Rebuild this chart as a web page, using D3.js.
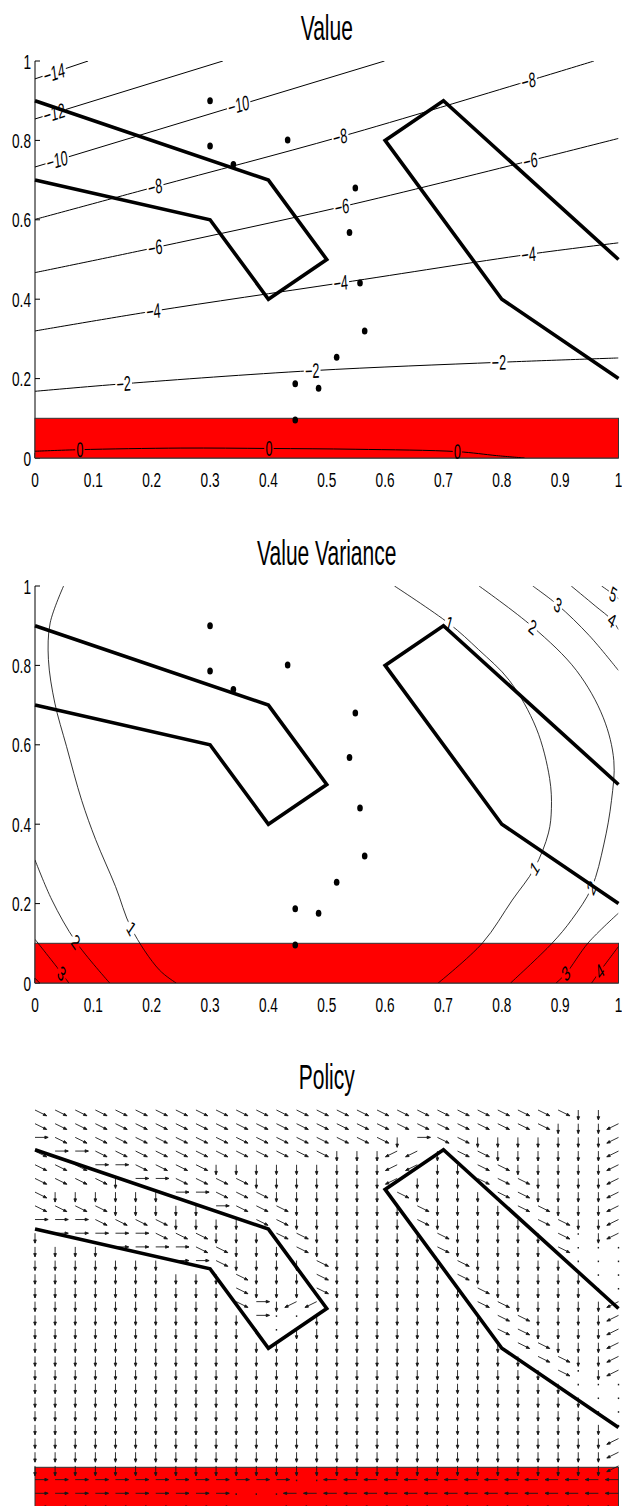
<!DOCTYPE html>
<html><head><meta charset="utf-8">
<script src="https://cdn.jsdelivr.net/npm/d3@7"></script>
<style>html,body{margin:0;padding:0;background:#fff;}svg{display:block;}</style>
</head><body>
<svg id="c" width="622" height="1506"></svg>
<script>
// ---------------- data ----------------
const panelTitles = ["Value", "Value Variance", "Policy"];
const xTickVals = [0, 0.1, 0.2, 0.3, 0.4, 0.5, 0.6, 0.7, 0.8, 0.9, 1];
const xTickLabels = ["0", "0.1", "0.2", "0.3", "0.4", "0.5", "0.6", "0.7", "0.8", "0.9", "1"];
const yTickVals = [0, 0.2, 0.4, 0.6, 0.8, 1];
const yTickLabels = ["0", "0.2", "0.4", "0.6", "0.8", "1"];

const wallLeft = [[0, 0.9], [0.4, 0.7], [0.5, 0.5], [0.4, 0.4], [0.3, 0.6], [0, 0.7]];
const wallRight = [[1, 0.5], [0.7, 0.9], [0.6, 0.8], [0.8, 0.4], [1, 0.2]];
const goalX = [0, 1];
const goalY = [0, 0.1];

const sampleX = [0.300, 0.300, 0.340, 0.433, 0.549, 0.539, 0.557, 0.565, 0.517, 0.446, 0.486, 0.446];
const sampleY = [0.900, 0.786, 0.739, 0.801, 0.680, 0.568, 0.441, 0.320, 0.254, 0.187, 0.176, 0.096];

const valueLevels = ["\u221214", "\u221212", "\u221210", "\u22128", "\u22126", "\u22124", "\u22122", "0"];
const valuePaths = [
  [[0, 0.955], [0.091, 1.0]],
  [[0, 0.854], [0.322, 1.0]],
  [[0, 0.733], [0.599, 1.0]],
  [[0, 0.601], [0.206, 0.683], [0.523, 0.809], [0.846, 0.950], [0.958, 1.0]],
  [[0, 0.467], [0.206, 0.530], [0.526, 0.633], [0.849, 0.749], [1.0, 0.805]],
  [[0, 0.320], [0.203, 0.370], [0.524, 0.441], [0.846, 0.513], [1.0, 0.542]],
  [[0, 0.168], [0.152, 0.187], [0.475, 0.220], [0.795, 0.241], [1.0, 0.252]],
  [[0, 0.017], [0.077, 0.021], [0.25, 0.025], [0.401, 0.024], [0.55, 0.022], [0.724, 0.016], [0.791, 0.006], [0.839, 0.0]]
];
const valueLabelAt = [
  [[0.033, 0.970]],
  [[0.033, 0.869]],
  [[0.038, 0.750], [0.349, 0.889]],
  [[0.206, 0.683], [0.523, 0.809], [0.846, 0.950]],
  [[0.206, 0.530], [0.526, 0.633], [0.849, 0.749]],
  [[0.203, 0.370], [0.524, 0.441], [0.846, 0.513]],
  [[0.152, 0.187], [0.475, 0.220], [0.795, 0.241]],
  [[0.077, 0.021], [0.401, 0.024], [0.724, 0.016]]
];

const varLevels = ["1", "1", "2", "2", "3", "3", "3", "4", "4", "4", "5"];
const varPaths = [
  [[0.049, 1.0], [0.026, 0.907], [0.023, 0.815], [0.034, 0.705], [0.054, 0.596], [0.08, 0.46], [0.104, 0.361], [0.138, 0.243], [0.165, 0.138], [0.213, 0.033], [0.242, 0]],
  [[0.616, 1.0], [0.710, 0.905], [0.76, 0.84], [0.813, 0.762], [0.859, 0.642], [0.882, 0.515], [0.885, 0.439], [0.880, 0.378], [0.856, 0.289], [0.818, 0.209], [0.767, 0.101], [0.691, 0]],
  [[0, 0.310], [0.029, 0.209], [0.07, 0.104], [0.128, 0]],
  [[0.761, 1.0], [0.853, 0.897], [0.928, 0.787], [0.974, 0.668], [0.992, 0.56], [0.988, 0.46], [0.975, 0.35], [0.954, 0.24], [0.92, 0.16], [0.886, 0.10], [0.815, 0]],
  [[0, 0.11], [0.046, 0.024], [0.058, 0]],
  [[0.853, 1.0], [0.896, 0.952], [0.95, 0.875], [1.0, 0.787]],
  [[1.0, 0.176], [0.948, 0.101], [0.910, 0.024], [0.893, 0]],
  [[0, 0.012], [0.008, 0]],
  [[0.919, 1.0], [0.96, 0.95], [0.989, 0.914], [1.0, 0.89]],
  [[1.0, 0.092], [0.968, 0.029], [0.954, 0]],
  [[0.971, 1.0], [0.991, 0.979], [1.0, 0.968]]
];
const varLabelAt = [
  [[0.165, 0.138]],
  [[0.710, 0.905], [0.856, 0.289]],
  [[0.07, 0.104]],
  [[0.853, 0.897], [0.954, 0.24]],
  [[0.046, 0.024]],
  [[0.896, 0.952]],
  [[0.910, 0.024]],
  [],
  [[0.989, 0.914]],
  [[0.968, 0.029]],
  [[0.991, 0.979]]
];

// policy: rows from y=1 (top) to y=0, columns x=0..1 (30 x 30 grid)
// R = down-right, L = down-left, d = down, r = right, l = left, . = tiny, space = none
const policyRows = [
  "RRRRRRRRRRRRRRRRRRRRRRRRRRRdd ",
  "RRRRRRRRRRRRRRRRRRRRRRRRRRdddL",
  "rRRRRRRRRRRRRRRRRRdrRRdddddddL",
  "RrrRRRRRRRRRRRRdddLLdRRddddddL",
  "RRRrrRRRRdddddddddLLddRRdddddL",
  "RRRRdrrRRRRdddddddLdddRRRddddL",
  "RddddddrrRRRddddddRddddRRddddL",
  "RRRRdddddrRRRddddddRddddRRdddL",
  "rrrRRRRddddRRddddddRdddddRRddL",
  "drrrrrRRRdddRRddddddRdddddR.dL",
  "ddddrrrrRRdddRddddddRdddddR...",
  "dddddddrrRddddRddddddRddddd...",
  "ddddddddddRdddRddddddRdddddd..",
  "ddddddddddRdddRdddddddRddddd..",
  "ddddddddddRrdLLdddddddRRdddddL",
  "dddddddddddr..dddddddddRRddddL",
  "ddddddddddd..ddddddddddRRddddL",
  "ddddddddddddddddddddddddRRdddL",
  "dddddddddddddddddddddddddRRddL",
  "ddddddddddddddddddddddddddR.dL",
  "ddddddddddddddddddddddddddd...",
  "dddddddddddddddddddddddddddd..",
  "dddddddddddddddddddddddddddd..",
  "ddddddddddddddddddddddddddddd.",
  "dddddddddddddddddddddddddddddL",
  "dddddddddddddddddddddddddddddL",
  "dddddddddddddddddddddddddddddL",
  "rrrrrrrrrrrrr..lllllllllllllll",
  "rrrrrrrrrr...lllllllllllllllll",
  "rrrrrrrrrr...lllllllllllllllll"
];
const policyVec = {
  "R": [0.020, -0.0145], "L": [-0.020, -0.0145], "d": [0, -0.025],
  "r": [0.0225, 0], "l": [-0.0225, 0], ".": [0, -0.004]
};

// ---------------- layout ----------------
const svg = d3.select("#c");
const defs = svg.append("defs");
svg.append("rect").attr("width", 622).attr("height", 1506).attr("fill", "#fff");
const X0 = 35, X1 = 618.5, H = 397;
const tops = [61, 586, 1110];
const FONT = "'Liberation Sans', Arial, Helvetica, sans-serif";
const xs = d3.scaleLinear().domain([0, 1]).range([X0, X1]);
const yScale = top => d3.scaleLinear().domain([0, 1]).range([top + H, top]);
const LFS = 21, LS = 0.6;

function addText(g, x, y, str, size, anchor, sxv, rot) {
  return g.append("text")
    .attr("transform", `translate(${x},${y}) scale(${sxv},1)` + (rot !== undefined ? ` rotate(${rot})` : ""))
    .attr("text-anchor", anchor).attr("font-family", FONT).attr("font-size", size)
    .attr("fill", "#000").text(str);
}

function drawAxes(g, ys) {
  xTickVals.forEach((v, k) => {
    g.append("line").attr("x1", xs(v)).attr("x2", xs(v)).attr("y1", ys(0)).attr("y2", ys(0) - 5).attr("stroke", "#000");
    addText(g, xs(v), ys(0) + 29, xTickLabels[k], 21, "middle", 0.65);
  });
  yTickVals.forEach((v, k) => {
    g.append("line").attr("x1", X0).attr("x2", X0 + 5).attr("y1", ys(v)).attr("y2", ys(v)).attr("stroke", "#000");
    addText(g, X0 - 4, ys(v) + 7.5, yTickLabels[k], 21, "end", 0.65);
  });
  g.append("line").attr("x1", X0).attr("x2", X0).attr("y1", ys(0)).attr("y2", ys(1)).attr("stroke", "#000");
  g.append("line").attr("x1", X0).attr("x2", X1).attr("y1", ys(0)).attr("y2", ys(0)).attr("stroke", "#000");
}

function drawGoal(g, ys) {
  g.append("rect").attr("x", xs(goalX[0])).attr("y", ys(goalY[1]))
    .attr("width", xs(goalX[1]) - xs(goalX[0])).attr("height", ys(goalY[0]) - ys(goalY[1]))
    .attr("fill", "#ff0000").attr("stroke", "#333").attr("stroke-width", 1);
}

function drawWalls(g, ys) {
  const wl = d3.line().x(d => xs(d[0])).y(d => ys(d[1]));
  [wallLeft, wallRight].forEach(w => {
    g.append("path").attr("d", wl(w)).attr("fill", "none").attr("stroke", "#000")
      .attr("stroke-width", 3.6).attr("stroke-linejoin", "miter");
  });
}

function drawSamples(g, ys) {
  sampleX.forEach((x, k) => {
    g.append("ellipse").attr("cx", xs(x)).attr("cy", ys(sampleY[k])).attr("rx", 2.8).attr("ry", 3.5).attr("fill", "#000");
  });
}

function localDir(px, x, y) {
  for (let k = 1; k < px.length - 1; k++) {
    if (Math.hypot(px[k][0] - x, px[k][1] - y) < 3) {
      return [px[k + 1][0] - px[k - 1][0], px[k + 1][1] - px[k - 1][1]];
    }
  }
  let best = Infinity, bi = 0;
  for (let i = 0; i < px.length - 1; i++) {
    const ax = px[i][0], ay = px[i][1], vx = px[i + 1][0] - ax, vy = px[i + 1][1] - ay;
    const L2 = vx * vx + vy * vy;
    let t = L2 ? ((x - ax) * vx + (y - ay) * vy) / L2 : 0;
    t = Math.max(0, Math.min(1, t));
    const dd = (ax + t * vx - x) ** 2 + (ay + t * vy - y) ** 2;
    if (dd < best) { best = dd; bi = i; }
  }
  return [px[bi + 1][0] - px[bi][0], px[bi + 1][1] - px[bi][1]];
}

function drawContours(g, ys, paths, levels, labelAt, id, sw) {
  const mask = defs.append("mask").attr("id", id).attr("maskUnits", "userSpaceOnUse")
    .attr("x", 0).attr("y", 0).attr("width", 622).attr("height", 1506);
  mask.append("rect").attr("x", 0).attr("y", 0).attr("width", 622).attr("height", 1506).attr("fill", "#fff");
  defs.append("clipPath").attr("id", id + "clip").append("rect")
    .attr("x", X0).attr("y", ys(1)).attr("width", X1 - X0).attr("height", H);
  const lineGen = d3.line().x(d => xs(d[0])).y(d => ys(d[1])).curve(d3.curveCatmullRom.alpha(0.5));
  const lg = g.append("g").attr("mask", `url(#${id})`).attr("clip-path", `url(#${id}clip)`);
  const tg = g.append("g");
  paths.forEach((p, k) => {
    lg.append("path").attr("d", lineGen(p)).attr("fill", "none").attr("stroke", "#000").attr("stroke-width", sw);
    const px = p.map(d => [xs(d[0]), ys(d[1])]);
    labelAt[k].forEach(l => {
      const lx = xs(l[0]), ly = ys(l[1]);
      let [dx, dy] = localDir(px, lx, ly);
      if (dx < 0) { dx = -dx; dy = -dy; }
      const ang = Math.atan2(dy, dx / LS) * 180 / Math.PI;
      const t = addText(tg, lx, ly, levels[k], LFS, "middle", LS, ang).attr("dy", "0.35em");
      const len = t.node().getComputedTextLength();
      mask.append("rect").attr("transform", `translate(${lx},${ly}) scale(${LS},1) rotate(${ang})`)
        .attr("x", -len / 2 - 2).attr("y", -LFS * 0.4).attr("width", len + 4).attr("height", LFS * 0.8)
        .attr("fill", "#000");
    });
  });
}

function drawPolicy(g, ys) {
  const ag = g.append("g");
  policyRows.forEach((row, j) => {
    for (let i = 0; i < row.length; i++) {
      const v = policyVec[row[i]];
      if (!v) continue;
      const gx = i / 29, gy = 1 - j / 29;
      const x0 = xs(gx), y0 = ys(gy), x1 = xs(gx + v[0]), y1 = ys(gy + v[1]);
      const dx = x1 - x0, dy = y1 - y0, len = Math.hypot(dx, dy);
      let d = `M${x0},${y0}L${x1},${y1}`;
      if (len > 5) {
        const ux = dx / len, uy = dy / len, hl = 3.5, a = 0.38;
        const c = Math.cos(a), s = Math.sin(a);
        const b1x = x1 - hl * (ux * c - uy * s), b1y = y1 - hl * (ux * s + uy * c);
        const b2x = x1 - hl * (ux * c + uy * s), b2y = y1 - hl * (-ux * s + uy * c);
        d += `M${b1x},${b1y}L${x1},${y1}L${b2x},${b2y}Z`;
      }
      ag.append("path").attr("d", d).attr("stroke", "#1a1a1a").attr("fill", "#1a1a1a")
        .attr("stroke-width", len > 5 ? 0.9 : 1.4);
    }
  });
}

// ---------------- panels ----------------
tops.forEach((top, p) => {
  const ys = yScale(top);
  const g = svg.append("g");
  addText(g, (X0 + X1) / 2, top - 21, panelTitles[p], 35, "middle", 0.6);
  if (p < 2) drawAxes(g, ys);
  drawGoal(g, ys);
  if (p === 0) drawContours(g, ys, valuePaths, valueLevels, valueLabelAt, "mval", 1);
  if (p === 1) drawContours(g, ys, varPaths, varLevels, varLabelAt, "mvar", 0.8);
  if (p === 2) drawPolicy(g, ys);
  if (p < 2) drawSamples(g, ys);
  drawWalls(g, ys);
});
</script>
</body></html>
